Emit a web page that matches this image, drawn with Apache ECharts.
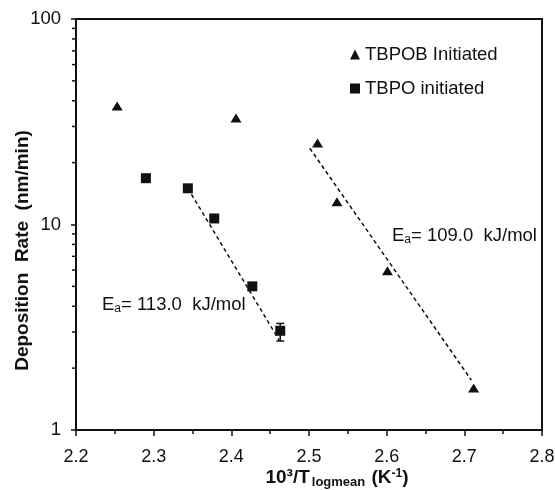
<!DOCTYPE html>
<html>
<head>
<meta charset="utf-8">
<script src="https://cdn.jsdelivr.net/npm/echarts@6/dist/echarts.min.js"></script>
<style>
  html, body { margin: 0; padding: 0; background: #fff; }
  #chart { width: 555px; height: 490px; }
</style>
</head>
<body>
<div id="chart"></div>
<script>
const tbpobX = [2.253, 2.406, 2.511, 2.536, 2.601, 2.712];
const tbpobY = [37.7, 33.0, 24.9, 12.9, 5.96, 1.6];
const tbpoX = [2.290, 2.344, 2.378, 2.427, 2.463];
const tbpoY = [16.8, 15.0, 10.7, 5.0, 3.04];
const tbpoErrLow = [null, null, null, null, 2.71];
const tbpoErrHigh = [null, null, null, null, 3.30];

// dashed Arrhenius fits (end points)
const fitTbpobX = [2.501, 2.709];
const fitTbpobY = [23.5, 1.75];
const fitTbpoX = [2.344, 2.462];
const fitTbpoY = [15.0, 2.72];

const yMinorTicks = [2, 3, 4, 5, 6, 7, 8, 9, 20, 30, 40, 50, 60, 70, 80, 90];

const FONT = 'Liberation Sans, Arial, sans-serif';
const INK = '#111';

const zip = (xs, ys) => xs.map((x, i) => [x, ys[i]]);

const chart = echarts.init(document.getElementById('chart'), null, {renderer: 'canvas'});

const errData = tbpoX.map((x, i) => [x, tbpoErrLow[i], tbpoErrHigh[i]]).filter(d => d[1] != null);

const annRich = {
  e: {fontSize: 18.5, fontFamily: FONT, fill: INK},
  s: {fontSize: 12, fontFamily: FONT, fill: INK, padding: [8, 0, 0, 0]}
};

chart.setOption({
  animation: false,
  textStyle: {fontFamily: FONT, color: INK},
  grid: {
    left: 76, right: 13, top: 19, bottom: 60,
    containLabel: false, outerBoundsMode: 'none',
    show: true, borderColor: INK, borderWidth: 2
  },
  legend: {
    orient: 'vertical', left: 345, top: 40, itemGap: 15,
    itemWidth: 10, itemHeight: 10,
    textStyle: {fontSize: 18.5, color: INK, fontFamily: FONT},
    data: [
      {name: 'TBPOB Initiated', icon: 'triangle', itemStyle: {opacity: 1}},
      {name: 'TBPO initiated', icon: 'rect', itemStyle: {opacity: 1}}
    ]
  },
  xAxis: {
    type: 'value', min: 2.2, max: 2.8, interval: 0.1,
    axisLine: {lineStyle: {color: INK, width: 2}},
    axisTick: {inside: false, length: 6, lineStyle: {color: INK, width: 1.5}},
    minorTick: {show: true, splitNumber: 2, length: 4, lineStyle: {color: INK, width: 1.5}},
    splitLine: {show: false},
    axisLabel: {fontSize: 18, color: INK, margin: 18, formatter: v => v.toFixed(1)},
    name: '{b|10³/T}{sub|logmean}{b| (K}{sup|-1}{b|)}',
    nameLocation: 'middle', nameGap: 37, nameMoveOverlap: false,
    nameTextStyle: {
      rich: {
        b: {fontSize: 19, fontWeight: 'bold', color: INK, fontFamily: FONT, lineHeight: 22},
        sub: {fontSize: 13, fontWeight: 'bold', color: INK, fontFamily: FONT, padding: [8, 1, 0, 2]},
        sup: {fontSize: 12, fontWeight: 'bold', color: INK, fontFamily: FONT, padding: [0, 0, 8, 0]}
      },
      padding: [0, 0, 0, 56]
    }
  },
  yAxis: {
    type: 'log', logBase: 10, min: 1, max: 100,
    axisLine: {lineStyle: {color: INK, width: 2}},
    axisTick: {inside: false, length: 5, lineStyle: {color: INK, width: 1.5}},
    splitLine: {show: false},
    minorTick: {show: false},
    axisLabel: {fontSize: 18.5, color: INK, margin: 15},
    name: 'Deposition  Rate  (nm/min)',
    nameLocation: 'middle', nameGap: 44, nameMoveOverlap: false,
    nameTextStyle: {fontSize: 19, fontWeight: 'bold', color: INK, fontFamily: FONT, padding: [0, 52, 0, 0]}
  },
  graphic: [
    {type: 'text', left: 392, top: 226, style: {text: '{e|E}{s|a}{e|= 109.0  kJ/mol}', rich: annRich}},
    {type: 'text', left: 102, top: 295, style: {text: '{e|E}{s|a}{e|= 113.0  kJ/mol}', rich: annRich}}
  ],
  series: [
    {
      name: 'fitTbpob', type: 'line', data: zip(fitTbpobX, fitTbpobY),
      symbol: 'none', silent: true, z: 1,
      lineStyle: {color: INK, width: 1.5, type: [4, 3]}
    },
    {
      name: 'fitTbpo', type: 'line', data: zip(fitTbpoX, fitTbpoY),
      symbol: 'none', silent: true, z: 1,
      lineStyle: {color: INK, width: 1.5, type: [4, 3]}
    },
    {
      name: 'TBPOB Initiated', type: 'scatter', data: zip(tbpobX, tbpobY),
      symbol: 'triangle', symbolSize: [11, 9], z: 3,
      itemStyle: {color: INK, opacity: 1}
    },
    {
      name: 'TBPO initiated', type: 'scatter', data: zip(tbpoX, tbpoY),
      symbol: 'rect', symbolSize: 10, z: 3,
      itemStyle: {color: INK, opacity: 1}
    },
    {
      name: 'tbpoErr', type: 'custom', z: 2, silent: true,
      data: errData,
      renderItem: (params, api) => {
        const lo = api.coord([api.value(0), api.value(1)]);
        const hi = api.coord([api.value(0), api.value(2)]);
        const w = 4;
        const ls = {stroke: INK, lineWidth: 1.5};
        return {
          type: 'group',
          children: [
            {type: 'line', shape: {x1: lo[0], y1: lo[1], x2: hi[0], y2: hi[1]}, style: ls},
            {type: 'line', shape: {x1: lo[0] - w, y1: lo[1], x2: lo[0] + w, y2: lo[1]}, style: ls},
            {type: 'line', shape: {x1: hi[0] - w, y1: hi[1], x2: hi[0] + w, y2: hi[1]}, style: ls}
          ]
        };
      }
    },
    {
      // log-spaced minor ticks on the y axis (2..9, 20..90)
      name: 'yMinor', type: 'custom', silent: true, clip: false,
      data: yMinorTicks.map(v => [2.2, v]),
      renderItem: (params, api) => {
        const p = api.coord([api.value(0), api.value(1)]);
        return {
          type: 'line',
          shape: {x1: p[0] - 4, y1: p[1], x2: p[0], y2: p[1]},
          style: {stroke: INK, lineWidth: 1.5}
        };
      }
    }
  ]
});
</script>
</body>
</html>
